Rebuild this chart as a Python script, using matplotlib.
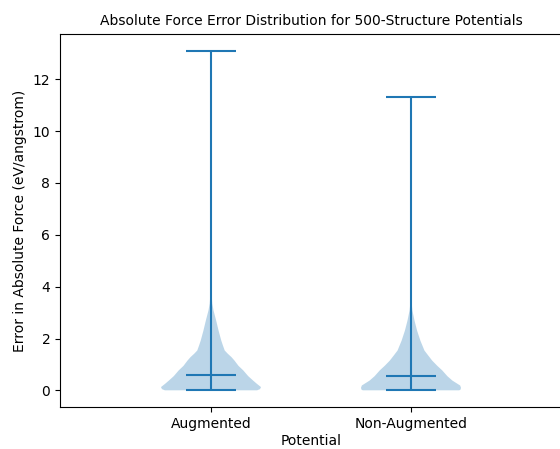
import matplotlib

matplotlib.use("Agg")

import matplotlib.pyplot as plt


# potentials on the x axis
potentials = ["Augmented", "Non-Augmented"]

# per-violin summary (eV/angstrom)
err_min = [0.005, 0.005]
err_median = [0.59, 0.55]
err_max = [13.1, 11.33]

# violin outline: error value -> relative half-width (density)
aug_coords = [0.005, 0.05, 0.13, 0.25, 0.38, 0.55, 0.77, 0.95, 1.15, 1.28,
              1.42, 1.54, 1.75, 1.92, 2.31, 2.69, 3.08, 3.35, 3.8, 4.5, 6.0, 9.0, 13.1]
aug_density = [47, 50, 51, 47, 43, 38, 33, 28, 24, 21,
               17, 14, 12, 10.5, 7.7, 5.3, 2.6, 1.3, 0.5, 0.2, 0.08, 0.05, 0.05]

non_coords = [0.005, 0.03, 0.10, 0.19, 0.38, 0.55, 0.77, 0.95, 1.15, 1.35,
              1.54, 1.92, 2.31, 2.69, 3.08, 3.4, 4.0, 6.0, 9.0, 11.33]
non_density = [47.7, 49, 49.5, 48.7, 41, 36, 31, 26, 21, 17,
               13.3, 9.3, 6, 3.5, 1.4, 0.6, 0.2, 0.08, 0.05, 0.05]


def _vpstat(coords, vals, lo, med, hi):
    return {"coords": coords, "vals": vals, "mean": med,
            "median": med, "min": lo, "max": hi}


vpstats = [
    _vpstat(aug_coords, aug_density, err_min[0], err_median[0], err_max[0]),
    _vpstat(non_coords, non_density, err_min[1], err_median[1], err_max[1]),
]

fig = plt.figure(figsize=(5.6, 4.49), dpi=100)
ax = fig.add_axes([60 / 560, (449 - 407.3) / 449, (562 - 60) / 560, (407.3 - 33.7) / 449])

positions = list(range(1, len(potentials) + 1))
ax.violin(vpstats, positions=positions, widths=0.5, showmedians=True)

ax.set_xticks(positions)
ax.set_xticklabels(potentials)
ax.set_xlim(0.245, 2.755)
ax.set_xlabel("Potential", labelpad=2.5)
ax.set_ylabel("Error in Absolute Force (eV/angstrom)")
ax.set_title("Absolute Force Error Distribution for 500-Structure Potentials", fontsize=10)

fig.savefig("out.png", dpi=100)
